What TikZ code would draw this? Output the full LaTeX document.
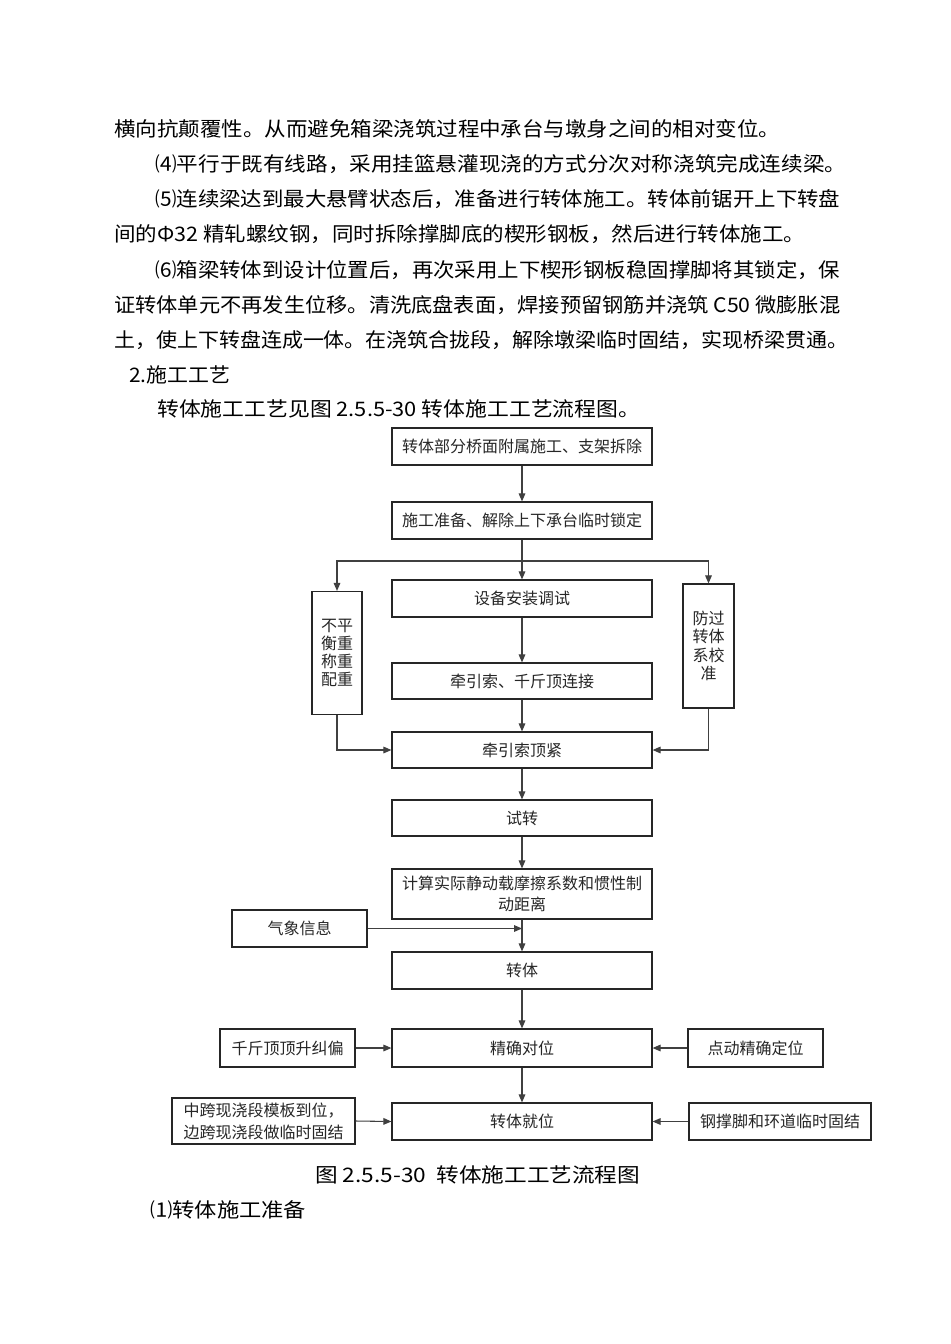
\documentclass[tikz,border=0pt]{standalone}
\usepackage{fontspec}
\setmainfont{Noto Sans CJK SC}
\usepackage{graphicx}
\usetikzlibrary{arrows.meta}
\tikzset{
 box/.style={draw=black!85, line width=0.9pt, inner sep=0pt, align=center, font=\fontsize{12}{15.75}\selectfont, text=black!85},
 arr/.style={-{Triangle[length=6pt,width=5pt]}, line width=0.8pt, draw=black!75},
 ln/.style={line width=0.8pt, draw=black!75},
 txt/.style={anchor=west, inner sep=0pt, font=\fontsize{15}{18}\selectfont}
}
\newcommand{\tline}[5]{\node[txt] (#1) at (#2,#3) {\resizebox{#4}{\height}{#5}};}
\begin{document}
\begin{tikzpicture}[x=0.75pt,y=-0.75pt]
\fill[white] (0,0) rectangle (950,1344);
\useasboundingbox (0,0) rectangle (950,1344);

% body text
\tline{t1}{114}{129}{499.5pt}{横向抗颠覆性。从而避免箱梁浇筑过程中承台与墩身之间的相对变位。}
\tline{t2}{155}{164}{518.25pt}{⑷平行于既有线路，采用挂篮悬灌现浇的方式分次对称浇筑完成连续梁。}
\tline{t3}{155}{199}{513.75pt}{⑸连续梁达到最大悬臂状态后，准备进行转体施工。转体前锯开上下转盘}
\tline{t4}{114}{234}{518.25pt}{间的Φ32 精轧螺纹钢，同时拆除撑脚底的楔形钢板，然后进行转体施工。}
\tline{t5}{155}{270}{513.75pt}{⑹箱梁转体到设计位置后，再次采用上下楔形钢板稳固撑脚将其锁定，保}
\tline{t6}{114}{305}{544.5pt}{证转体单元不再发生位移。清洗底盘表面，焊接预留钢筋并浇筑 C50 微膨胀混}
\tline{t7}{114}{340}{550.5pt}{土，使上下转盘连成一体。在浇筑合拢段，解除墩梁临时固结，实现桥梁贯通。}
\tline{t8}{129}{375}{75.75pt}{2.施工工艺}
\tline{t9}{157}{409}{362.25pt}{转体施工工艺见图 2.5.5-30 转体施工工艺流程图。}
\tline{cap}{315}{1175}{243.75pt}{图 2.5.5-30~~转体施工工艺流程图}
\tline{t10}{150}{1210}{117pt}{⑴转体施工准备}

% flowchart boxes
\node[box, minimum width=195pt, minimum height=27.75pt] (b1) at (522,446.5) {转体部分桥面附属施工、支架拆除};
\node[box, minimum width=195pt, minimum height=27.75pt] (b2) at (522,520.5) {施工准备、解除上下承台临时锁定};
\node[box, minimum width=195pt, minimum height=27.75pt] (b3) at (522,598.5) {设备安装调试};
\node[box, minimum width=37.5pt, minimum height=92.25pt, font=\fontsize{12}{13.7}\selectfont] (L) at (337,653) {不平\\衡重\\称重\\配重};
\node[box, minimum width=38.25pt, minimum height=93pt, font=\fontsize{12}{13.7}\selectfont] (R) at (708.5,646) {防过\\转体\\系校\\准};
\node[box, minimum width=195pt, minimum height=27pt] (b4) at (522,681) {牵引索、千斤顶连接};
\node[box, minimum width=195pt, minimum height=27pt] (b5) at (522,750) {牵引索顶紧};
\node[box, minimum width=195pt, minimum height=27pt] (b6) at (522,818) {试转};
\node[box, minimum width=195pt, minimum height=37.5pt] (b7) at (522,894) {计算实际静动载摩擦系数和惯性制\\动距离};
\node[box, minimum width=101.25pt, minimum height=27.75pt] (q) at (299.5,928.5) {气象信息};
\node[box, minimum width=195pt, minimum height=27.75pt] (b8) at (522,970.5) {转体};
\node[box, minimum width=195pt, minimum height=28.5pt] (b9) at (522,1048) {精确对位};
\node[box, minimum width=101.25pt, minimum height=28.5pt] (j) at (287.5,1048) {千斤顶顶升纠偏};
\node[box, minimum width=101.25pt, minimum height=28.5pt] (d) at (755.5,1048) {点动精确定位};
\node[box, minimum width=195pt, minimum height=27.75pt] (b10) at (522,1121.5) {转体就位};
\node[box, minimum width=137.25pt, minimum height=34.5pt, font=\fontsize{12}{16.5}\selectfont] (z) at (263.5,1121) {中跨现浇段模板到位，\\边跨现浇段做临时固结};
\node[box, minimum width=136.5pt, minimum height=27.75pt] (g) at (780,1121.5) {钢撑脚和环道临时固结};

% connectors
\coordinate (br) at (522,561);
\draw[arr] (b1.south) -- (b2.north);
\draw[ln] (b2.south) -- (br);
\draw[arr] (br) -- (b3.north);
\draw[arr] (br) -| (L.north);
\draw[arr] (br) -| (R.north);
\draw[arr] (b3.south) -- (b4.north);
\draw[arr] (b4.south) -- (b5.north);
\draw[arr] (L.south) |- (b5.west);
\draw[arr] (R.south) |- (b5.east);
\draw[arr] (b5.south) -- (b6.north);
\draw[arr] (b6.south) -- (b7.north);
\draw[arr] (b7.south) -- (b8.north);
\draw[arr] (q.east) -- (q.east -| b7.south);
\draw[arr] (b8.south) -- (b9.north);
\draw[arr] (b9.south) -- (b10.north);
\draw[arr] (j.east) -- (b9.west);
\draw[arr] (d.west) -- (b9.east);
\draw[arr] (z.east) -- (b10.west);
\draw[arr] (g.west) -- (b10.east);
\end{tikzpicture}
\end{document}
